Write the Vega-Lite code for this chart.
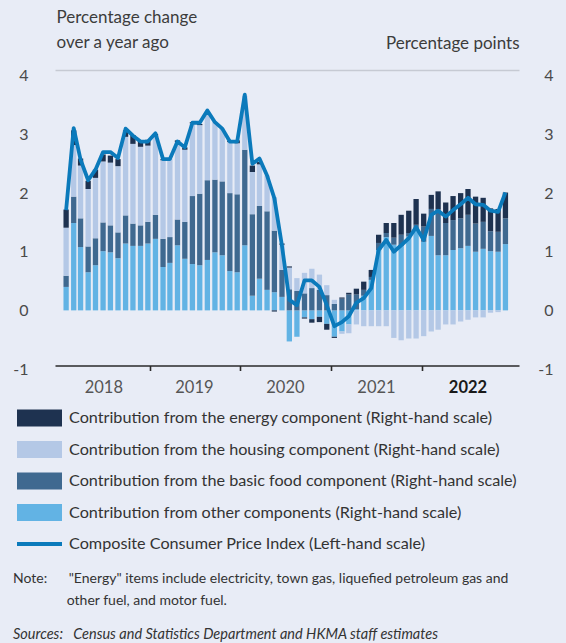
{
  "$schema": "https://vega.github.io/schema/vega-lite/v6.json",
  "width": 464,
  "height": 299,
  "autosize": {"type": "none"},
  "padding": {"left": 55, "top": 70, "right": 47, "bottom": 274},
  "background": "#e8ecf6",
  "config": {
    "view": {"stroke": null},
    "font": "Lato",
    "axis": {"labelFont": "Lato", "titleFont": "Lato", "titleFontWeight": "normal"},
    "legend": {"labelFont": "Lato"}
  },
  "title": {
    "text": ["Note:\u00a0\u00a0\u00a0\u00a0\u00a0\u00a0\"Energy\" items include electricity, town gas, liquefied petroleum gas and", "\u200b\u00a0\u00a0\u00a0\u00a0\u00a0\u00a0\u00a0\u00a0\u00a0\u00a0\u00a0\u00a0\u00a0\u00a0\u00a0other fuel, and motor fuel."],
    "subtitle": "Sources:\u00a0\u00a0\u00a0Census and Statistics Department and HKMA staff estimates",
    "orient": "bottom",
    "anchor": "start",
    "frame": "group",
    "dx": -42,
    "offset": 19,
    "font": "Lato",
    "fontSize": 14,
    "fontWeight": "normal",
    "color": "#333333",
    "lineHeight": 22,
    "subtitleFont": "Lato",
    "subtitleFontSize": 14.5,
    "subtitleFontStyle": "italic",
    "subtitleColor": "#333333",
    "subtitlePadding": 20
  },
  "data": {
    "values": [
      {"date": "2018-01-01", "other": 0.40, "food": 0.19, "housing": 0.82, "energy": 0.31, "cpi": 1.71},
      {"date": "2018-02-01", "other": 1.49, "food": 0.45, "housing": 0.88, "energy": 0.25, "cpi": 3.11},
      {"date": "2018-03-01", "other": 1.08, "food": 0.49, "housing": 0.90, "energy": 0.12, "cpi": 2.57},
      {"date": "2018-04-01", "other": 0.65, "food": 0.44, "housing": 0.98, "energy": 0.14, "cpi": 2.22},
      {"date": "2018-05-01", "other": 0.77, "food": 0.46, "housing": 1.03, "energy": 0.14, "cpi": 2.40},
      {"date": "2018-06-01", "other": 1.01, "food": 0.49, "housing": 1.04, "energy": 0.12, "cpi": 2.70},
      {"date": "2018-07-01", "other": 0.99, "food": 0.46, "housing": 1.07, "energy": 0.12, "cpi": 2.70},
      {"date": "2018-08-01", "other": 0.89, "food": 0.44, "housing": 1.13, "energy": 0.12, "cpi": 2.60},
      {"date": "2018-09-01", "other": 1.14, "food": 0.48, "housing": 1.34, "energy": 0.11, "cpi": 3.10},
      {"date": "2018-10-01", "other": 1.10, "food": 0.38, "housing": 1.36, "energy": 0.15, "cpi": 2.98},
      {"date": "2018-11-01", "other": 1.10, "food": 0.35, "housing": 1.34, "energy": 0.11, "cpi": 2.88},
      {"date": "2018-12-01", "other": 1.14, "food": 0.37, "housing": 1.30, "energy": 0.10, "cpi": 2.88},
      {"date": "2019-01-01", "other": 1.22, "food": 0.41, "housing": 1.33, "energy": 0.05, "cpi": 3.02},
      {"date": "2019-02-01", "other": 0.74, "food": 0.48, "housing": 1.34, "energy": 0.02, "cpi": 2.58},
      {"date": "2019-03-01", "other": 0.81, "food": 0.44, "housing": 1.33, "energy": 0.00, "cpi": 2.58},
      {"date": "2019-04-01", "other": 1.11, "food": 0.44, "housing": 1.32, "energy": 0.03, "cpi": 2.88},
      {"date": "2019-05-01", "other": 0.88, "food": 0.63, "housing": 1.23, "energy": 0.04, "cpi": 2.78},
      {"date": "2019-06-01", "other": 0.79, "food": 1.16, "housing": 1.24, "energy": 0.02, "cpi": 3.20},
      {"date": "2019-07-01", "other": 0.77, "food": 1.22, "housing": 1.17, "energy": 0.02, "cpi": 3.20},
      {"date": "2019-08-01", "other": 0.86, "food": 1.36, "housing": 1.16, "energy": 0.00, "cpi": 3.41},
      {"date": "2019-09-01", "other": 0.99, "food": 1.24, "housing": 0.98, "energy": 0.00, "cpi": 3.21},
      {"date": "2019-10-01", "other": 0.94, "food": 1.26, "housing": 0.90, "energy": 0.00, "cpi": 3.10},
      {"date": "2019-11-01", "other": 0.67, "food": 1.33, "housing": 0.87, "energy": 0.02, "cpi": 2.88},
      {"date": "2019-12-01", "other": 0.65, "food": 1.33, "housing": 0.87, "energy": 0.05, "cpi": 2.88},
      {"date": "2020-01-01", "other": 1.11, "food": 1.63, "housing": 0.92, "energy": 0.00, "cpi": 3.68},
      {"date": "2020-02-01", "other": 0.25, "food": 1.39, "housing": 0.72, "energy": 0.11, "cpi": 2.50},
      {"date": "2020-03-01", "other": 0.54, "food": 1.24, "housing": 0.71, "energy": 0.04, "cpi": 2.59},
      {"date": "2020-04-01", "other": 0.35, "food": 1.34, "housing": 0.61, "energy": 0.00, "cpi": 2.30},
      {"date": "2020-05-01", "other": 0.31, "food": 1.05, "housing": 0.57, "energy": -0.02, "cpi": 1.91},
      {"date": "2020-06-01", "other": 0.23, "food": 0.46, "housing": 0.43, "energy": 0.02, "cpi": 1.10},
      {"date": "2020-07-01", "other": -0.53, "food": 0.36, "housing": 0.37, "energy": 0.02, "cpi": 0.18},
      {"date": "2020-08-01", "other": -0.45, "food": 0.33, "housing": 0.22, "energy": 0.00, "cpi": 0.09},
      {"date": "2020-09-01", "other": -0.12, "food": 0.29, "housing": 0.35, "energy": -0.02, "cpi": 0.51},
      {"date": "2020-10-01", "other": -0.15, "food": 0.38, "housing": 0.33, "energy": -0.06, "cpi": 0.51},
      {"date": "2020-11-01", "other": -0.11, "food": 0.35, "housing": 0.26, "energy": -0.09, "cpi": 0.40},
      {"date": "2020-12-01", "other": -0.23, "food": 0.26, "housing": 0.17, "energy": -0.10, "cpi": 0.09},
      {"date": "2021-01-01", "other": -0.45, "food": 0.11, "housing": 0.07, "energy": -0.02, "cpi": -0.27},
      {"date": "2021-02-01", "other": -0.36, "food": 0.20, "housing": -0.04, "energy": 0.02, "cpi": -0.20},
      {"date": "2021-03-01", "other": -0.24, "food": 0.27, "housing": -0.15, "energy": 0.03, "cpi": -0.10},
      {"date": "2021-04-01", "other": 0.02, "food": 0.25, "housing": -0.24, "energy": 0.10, "cpi": 0.13},
      {"date": "2021-05-01", "other": 0.25, "food": 0.10, "housing": -0.27, "energy": 0.14, "cpi": 0.21},
      {"date": "2021-06-01", "other": 0.52, "food": 0.05, "housing": -0.27, "energy": 0.12, "cpi": 0.38},
      {"date": "2021-07-01", "other": 1.03, "food": 0.12, "housing": -0.27, "energy": 0.14, "cpi": 1.03},
      {"date": "2021-08-01", "other": 1.25, "food": 0.07, "housing": -0.27, "energy": 0.17, "cpi": 1.20},
      {"date": "2021-09-01", "other": 1.12, "food": 0.12, "housing": -0.47, "energy": 0.25, "cpi": 1.00},
      {"date": "2021-10-01", "other": 1.10, "food": 0.19, "housing": -0.51, "energy": 0.34, "cpi": 1.11},
      {"date": "2021-11-01", "other": 1.26, "food": 0.06, "housing": -0.48, "energy": 0.38, "cpi": 1.23},
      {"date": "2021-12-01", "other": 1.40, "food": 0.06, "housing": -0.48, "energy": 0.44, "cpi": 1.42},
      {"date": "2022-01-01", "other": 1.17, "food": 0.26, "housing": -0.44, "energy": 0.22, "cpi": 1.20},
      {"date": "2022-02-01", "other": 1.27, "food": 0.46, "housing": -0.36, "energy": 0.24, "cpi": 1.63},
      {"date": "2022-03-01", "other": 0.94, "food": 0.78, "housing": -0.33, "energy": 0.31, "cpi": 1.70},
      {"date": "2022-04-01", "other": 0.94, "food": 0.55, "housing": -0.24, "energy": 0.35, "cpi": 1.60},
      {"date": "2022-05-01", "other": 1.03, "food": 0.51, "housing": -0.24, "energy": 0.41, "cpi": 1.71},
      {"date": "2022-06-01", "other": 1.06, "food": 0.51, "housing": -0.19, "energy": 0.43, "cpi": 1.81},
      {"date": "2022-07-01", "other": 1.10, "food": 0.53, "housing": -0.16, "energy": 0.44, "cpi": 1.92},
      {"date": "2022-08-01", "other": 1.00, "food": 0.48, "housing": -0.12, "energy": 0.46, "cpi": 1.81},
      {"date": "2022-09-01", "other": 1.05, "food": 0.46, "housing": -0.12, "energy": 0.41, "cpi": 1.80},
      {"date": "2022-10-01", "other": 1.01, "food": 0.34, "housing": -0.04, "energy": 0.39, "cpi": 1.70},
      {"date": "2022-11-01", "other": 1.00, "food": 0.34, "housing": -0.03, "energy": 0.39, "cpi": 1.68},
      {"date": "2022-12-01", "other": 1.13, "food": 0.44, "housing": 0.00, "energy": 0.44, "cpi": 2.01}
    ]
  },
  "encoding": {
    "x": {
      "field": "date",
      "type": "temporal",
      "scale": {"domain": [{"year": 2017, "month": 12, "date": 7}, {"year": 2023, "month": 1, "date": 5}]},
      "axis": {
        "title": null,
        "grid": false,
        "offset": -3.5,
        "values": [
          {"year": 2018, "month": 12, "date": 9},
          {"year": 2019, "month": 12, "date": 14},
          {"year": 2020, "month": 12, "date": 20},
          {"year": 2021, "month": 12, "date": 27},
          {"year": 2023, "month": 1, "date": 5}
        ],
        "labelExpr": "year(datum.value) >= 2023 ? '2022' : '' + year(datum.value)",
        "labelOffset": -46.5,
        "labelFontSize": 16.5,
        "labelPadding": 9,
        "labelFlush": false,
        "labelOverlap": false,
        "labelColor": {"condition": {"test": "year(datum.value) >= 2023", "value": "#1a1a1a"}, "value": "#555555"},
        "labelFontWeight": {"condition": {"test": "year(datum.value) >= 2023", "value": "bold"}, "value": "normal"},
        "tickOpacity": {"condition": {"test": "year(datum.value) >= 2023", "value": 0}, "value": 1},
        "tickSize": 5,
        "tickWidth": 1.6,
        "tickColor": "#2a2a2a",
        "domainColor": "#2a2a2a",
        "domainWidth": 1.7
      }
    }
  },
  "layer": [
    {
      "transform": [
        {"fold": ["other", "food", "housing", "energy"], "as": ["key", "val"]},
        {"calculate": "indexof(['other','food','housing','energy'], datum.key)", "as": "ord"}
      ],
      "mark": {"type": "bar", "width": 5.3, "stroke": null},
      "encoding": {
        "y": {
          "field": "val",
          "type": "quantitative",
          "stack": "zero",
          "scale": {"domain": [-1, 4.1], "nice": false, "zero": false},
          "axis": {
            "orient": "right",
            "values": [-1, 0, 1, 2, 3, 4],
            "labelExpr": "'' + datum.value",
            "domain": false,
            "ticks": false,
            "tickSize": 0,
            "grid": false,
            "labelAlign": "right",
            "labelBaseline": "middle",
            "labelPadding": 34,
            "labelFontSize": 16,
            "labelColor": "#4a4a4a",
            "title": "Percentage points",
            "titleAngle": 0,
            "titleAlign": "right",
            "titleBaseline": "alphabetic",
            "titleX": 0,
            "titleY": -21.7,
            "titleFontSize": 17,
            "titleColor": "#3c3c3c"
          }
        },
        "fill": {
          "field": "key",
          "type": "nominal",
          "scale": {"domain": ["energy", "housing", "food", "other"], "range": ["#1e3250", "#b4c8e6", "#3f6990", "#62b3e4"]},
          "legend": {
            "orient": "none",
            "legendX": -24,
            "legendY": 339.5,
            "direction": "vertical",
            "title": null,
            "padding": 0,
            "symbolType": "M-2.647,-1H2.647V1H-2.647Z",
            "symbolSize": 289,
            "symbolStrokeWidth": 0,
            "symbolOpacity": 1,
            "labelOffset": 21,
            "labelFontSize": 16.2,
            "labelColor": "#333333",
            "labelLimit": 600,
            "rowPadding": 14.5,
            "labelExpr": "datum.value == 'energy' ? 'Contribution from the energy component (Right-hand scale)' : datum.value == 'housing' ? 'Contribution from the housing component (Right-hand scale)' : datum.value == 'food' ? 'Contribution from the basic food component (Right-hand scale)' : 'Contribution from other components (Right-hand scale)'"
          }
        },
        "order": {"field": "ord", "type": "quantitative"}
      }
    },
    {
      "mark": {"type": "line", "strokeWidth": 3.8, "strokeJoin": "round"},
      "encoding": {
        "y": {
          "field": "cpi",
          "type": "quantitative",
          "scale": {"domain": [-1, 4.1], "nice": false, "zero": false},
          "axis": {
            "orient": "left",
            "values": [-1, 0, 1, 2, 3, 4, 4.1],
            "labelExpr": "datum.value > 4.05 ? '' : '' + datum.value",
            "domain": false,
            "ticks": false,
            "tickSize": 0,
            "labelPadding": 27,
            "labelBaseline": "middle",
            "labelFontSize": 16,
            "labelColor": "#4a4a4a",
            "grid": true,
            "gridColor": "#c6cad3",
            "gridWidth": 1.5,
            "gridOpacity": {"condition": {"test": "datum.value > 4.05", "value": 1}, "value": 0},
            "title": ["Percentage change", "over a year ago"],
            "titleAngle": 0,
            "titleAlign": "left",
            "titleBaseline": "alphabetic",
            "titleX": 1,
            "titleY": -47.3,
            "titleFontSize": 17,
            "titleLineHeight": 25,
            "titleColor": "#3c3c3c"
          }
        },
        "stroke": {
          "datum": "cpi",
          "type": "nominal",
          "scale": {"domain": ["cpi"], "range": ["#0b7abb"]},
          "legend": {
            "orient": "none",
            "legendX": -26,
            "legendY": 463.5,
            "direction": "vertical",
            "title": null,
            "padding": 0,
            "symbolType": "M-2.647,0H2.647",
            "symbolSize": 289,
            "symbolStrokeWidth": 4,
            "labelOffset": 19,
            "labelFontSize": 16.2,
            "labelColor": "#333333",
            "labelLimit": 600,
            "labelExpr": "'Composite Consumer Price Index (Left-hand scale)'"
          }
        }
      }
    }
  ],
  "resolve": {"scale": {"y": "independent"}}
}
